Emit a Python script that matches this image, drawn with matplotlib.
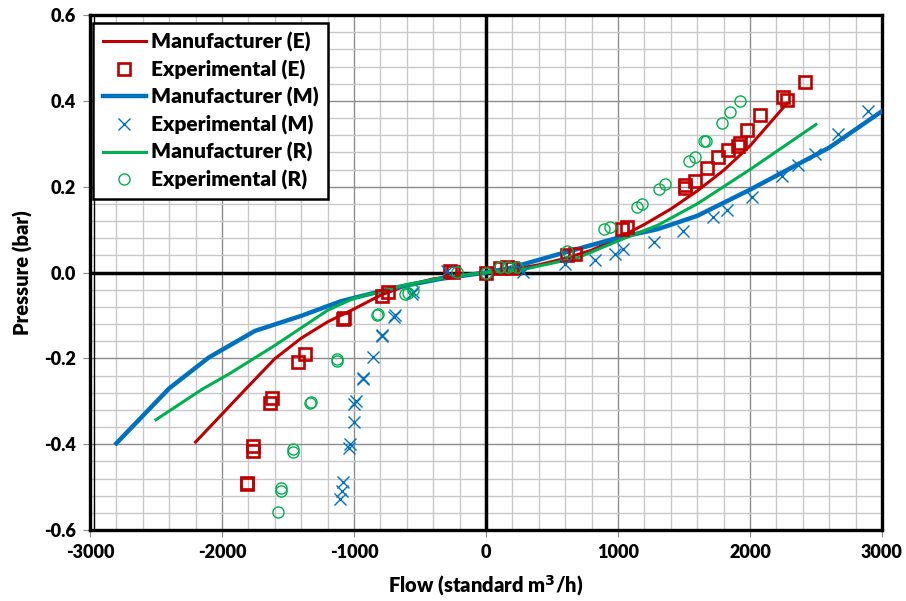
import matplotlib
matplotlib.use("Agg")
import matplotlib.pyplot as plt
from matplotlib.ticker import MultipleLocator, FixedLocator

plt.rcParams['font.family'] = ['Lato', 'DejaVu Sans']

# Manufacturer curves
man_e_x = [-2200, -1800, -1600, -1400, -1200, -1000, -800, -600, -400, -200, 0,
           200, 400, 600, 800, 1000, 1200, 1400, 1600, 1800, 2000, 2280]
man_e_y = [-0.395, -0.265, -0.201, -0.153, -0.115, -0.085, -0.053, -0.030, -0.015, -0.006, 0.0,
           0.007, 0.018, 0.033, 0.052, 0.080, 0.112, 0.148, 0.190, 0.238, 0.295, 0.394]

man_m_x = [-2800, -2400, -2100, -1750, -1400, -1100, -700, -350, 0,
           200, 600, 1000, 1300, 1600, 2000, 2300, 2600, 3000]
man_m_y = [-0.398, -0.270, -0.198, -0.136, -0.101, -0.067, -0.036, -0.015, 0.0,
           0.012, 0.047, 0.081, 0.101, 0.132, 0.193, 0.242, 0.291, 0.376]

man_r_x = [-2500, -2150, -1950, -1600, -1200, -1000, -600, -300, 0,
           250, 700, 1050, 1300, 1600, 2000, 2500]
man_r_y = [-0.343, -0.272, -0.237, -0.170, -0.088, -0.060, -0.028, -0.011, 0.0,
           0.005, 0.035, 0.080, 0.110, 0.160, 0.240, 0.345]

# Experimental points
exp_e_x = [-1813, -1808, -1763, -1763, -1624, -1636, -1422, -1371, -1081, -1076, -790, -740,
           -273, -250, 0, 106, 157, 200, 611, 674, 1028, 1066, 1508, 1508, 1583, 1677,
           1760, 1836, 1911, 1924, 1975, 2076, 2252, 2278, 2417]
exp_e_y = [-0.493, -0.490, -0.404, -0.417, -0.292, -0.303, -0.209, -0.190, -0.108, -0.105, -0.054, -0.046,
           0.003, 0.002, 0.0, 0.011, 0.012, 0.010, 0.040, 0.044, 0.102, 0.106, 0.203, 0.198, 0.213, 0.244,
           0.269, 0.286, 0.294, 0.302, 0.331, 0.368, 0.409, 0.403, 0.443]

exp_m_x = [-1106, -1093, -1086, -1035, -1030, -997, -1000, -985, -934, -928, -858, -790, -784,
           -689, -695, -563, -556, -298, 283, 598, 826, 977, 1040, 1273, 1490, 1722, 1823,
           2013, 2240, 2366, 2492, 2669, 2896]
exp_m_y = [-0.528, -0.509, -0.489, -0.408, -0.400, -0.349, -0.306, -0.299, -0.248, -0.245, -0.198, -0.149, -0.146,
           -0.098, -0.103, -0.050, -0.046, 0.003, 0.001, 0.019, 0.030, 0.044, 0.055, 0.071, 0.096, 0.129, 0.145,
           0.176, 0.224, 0.250, 0.277, 0.322, 0.376]

exp_r_x = [-1573, -1556, -1550, -1465, -1465, -1333, -1326, -1131, -1125, -828, -815, -614, -589, -556,
           -222, 0, 106, 170, 232, 616, 894, 939, 1141, 1184, 1313, 1356, 1540, 1583,
           1654, 1667, 1790, 1848, 1924]
exp_r_y = [-0.559, -0.509, -0.501, -0.419, -0.411, -0.305, -0.302, -0.207, -0.202, -0.100, -0.097, -0.050, -0.048, -0.040,
           0.001, 0.0, 0.012, 0.012, 0.012, 0.050, 0.102, 0.106, 0.152, 0.160, 0.195, 0.207, 0.260, 0.269,
           0.306, 0.306, 0.348, 0.374, 0.399]

x_ticks = [-3000, -2000, -1000, 0, 1000, 2000, 3000]
y_ticks = [-0.6, -0.4, -0.2, 0.0, 0.2, 0.4, 0.6]

RED = '#C00000'
BLUE = '#0070C0'
GREEN = '#00B050'

fig = plt.figure(figsize=(9.06, 6.01), dpi=100)
ax = fig.add_axes([0.0993, 0.1181, 0.8742, 0.8569])

ax.set_xlim(-3000, 3000)
ax.set_ylim(-0.6, 0.6)

ax.xaxis.set_major_locator(FixedLocator(x_ticks))
ax.yaxis.set_major_locator(FixedLocator(y_ticks))
ax.xaxis.set_minor_locator(MultipleLocator(200))
ax.yaxis.set_minor_locator(MultipleLocator(0.04))
ax.grid(which='minor', color='#c8c8c8', lw=1.0, zorder=0)
ax.grid(which='major', color='#8c8c8c', lw=1.0, zorder=0)
ax.set_axisbelow(True)

ax.axhline(0, color='black', lw=2.5, zorder=1)
ax.axvline(0, color='black', lw=2.5, zorder=1)
# inner thin line of the double left border
ax.plot([0.0045, 0.0045], [0, 1], transform=ax.transAxes, color='black', lw=1.0, zorder=5,
        clip_on=False)

ax.plot(man_e_x, man_e_y, color=RED, lw=2.2, label='Manufacturer (E)', zorder=3)
ax.plot(exp_e_x, exp_e_y, ls='none', marker='s', ms=8, mfc='none', mec=RED, mew=1.9,
        label='Experimental (E)', zorder=4)
ax.plot(man_m_x, man_m_y, color=BLUE, lw=3.2, label='Manufacturer (M)', zorder=3)
ax.plot(exp_m_x, exp_m_y, ls='none', marker='x', ms=8, mec=BLUE, mew=1.0,
        label='Experimental (M)', zorder=4)
ax.plot(man_r_x, man_r_y, color=GREEN, lw=2.2, label='Manufacturer (R)', zorder=3)
ax.plot(exp_r_x, exp_r_y, ls='none', marker='o', ms=8, mfc='none', mec=GREEN, mew=1.0,
        label='Experimental (R)', zorder=4)

ax.set_xticklabels([str(v) for v in x_ticks], fontsize=13, fontweight='heavy')
ax.set_yticklabels(['%.1f' % v for v in y_ticks], fontsize=13, fontweight='heavy')
ax.tick_params(axis='x', which='major', direction='out', length=5, pad=5, color='#888888')
ax.tick_params(axis='y', which='major', direction='out', length=5, pad=5, color='#888888')
ax.tick_params(which='minor', length=0)

ax.set_xlabel('Flow (standard m$^\\mathbf{3}$/h)', fontsize=14.5, fontweight='heavy', labelpad=9)
ax.set_ylabel('Pressure (bar)', fontsize=14.5, fontweight='heavy', labelpad=8)

for s in ax.spines.values():
    s.set_linewidth(2.4)
    s.set_color('black')

leg = ax.legend(loc='upper left', bbox_to_anchor=(0.004, 0.985),
                prop={'weight': 'heavy', 'size': 15}, frameon=True, fancybox=False,
                handlelength=2.1, handletextpad=0.25, borderpad=0.45, labelspacing=0.36,
                borderaxespad=0)
leg.get_frame().set_edgecolor('black')
leg.get_frame().set_linewidth(1.8)
leg.get_frame().set_alpha(1)

fig.savefig('out.png', dpi=100)
